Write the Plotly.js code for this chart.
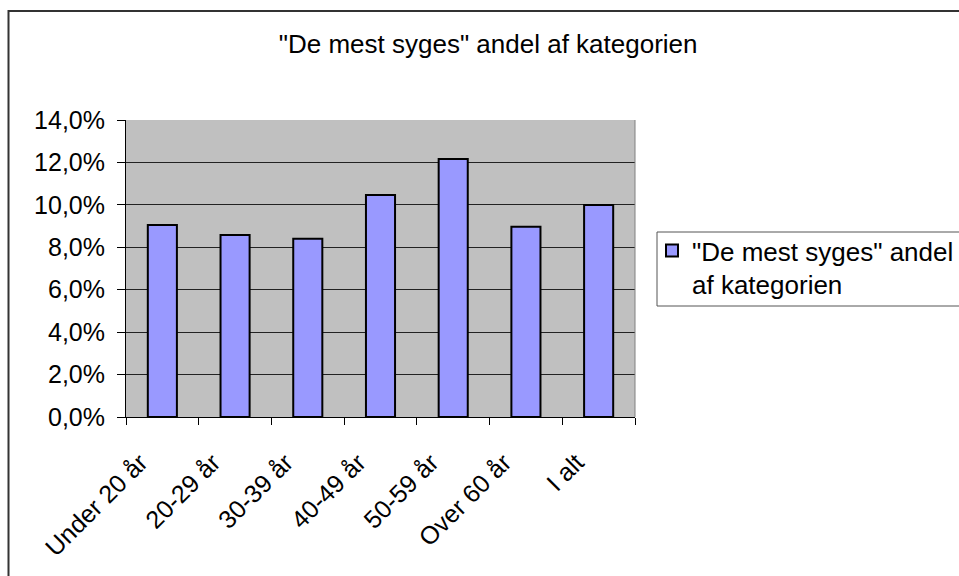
<!DOCTYPE html>
<html>
<head>
<meta charset="utf-8">
<script src="https://cdn.plot.ly/plotly-3.0.1.min.js"></script>
<style>html,body{margin:0;padding:0;background:#fff;}#chart{width:959px;height:576px;}</style>
</head>
<body>
<div id="chart"></div>
<script>
const categories = ["Under 20 år", "20-29 år", "30-39 år", "40-49 år", "50-59 år", "Over 60 år", "I alt"];
const shareValues = [0.0905, 0.0858, 0.0840, 0.1046, 0.1216, 0.0897, 0.0999];
const seriesName = '"De mest syges" andel<br>af kategorien';
const chartTitle = '"De mest syges" andel af kategorien';

const W = 959, H = 576;
const mL = 126, mR = 324, mT = 120, mB = 159;
const pw = W - mL - mR, ph = H - mT - mB;
const px = v => (v - mL) / pw;
const py = v => (H - mB - v) / ph;

const fam = "Liberation Sans, Arial, sans-serif";
const font = {family: fam, size: 25, color: "#000"};
const bigFont = {family: fam, size: 26, color: "#000"};

const trace = {
  type: "bar",
  x: categories,
  y: shareValues,
  name: seriesName,
  marker: {color: "#9999FF", line: {color: "#000", width: 2}},
  showlegend: true,
  hoverinfo: "x+y"
};

const layout = {
  width: W, height: H,
  margin: {l: mL, r: mR, t: mT, b: mB, autoexpand: false},
  paper_bgcolor: "#fff",
  plot_bgcolor: "#C0C0C0",
  font: font,
  separators: ",.",
  bargap: 0.6,
  title: {text: chartTitle, font: bigFont, xref: "container", yref: "container",
          x: 0.509, xanchor: "center", y: 1 - 35 / H, yanchor: "top"},
  xaxis: {
    type: "category",
    tickangle: -45,
    ticks: "outside", ticklen: 7, tickcolor: "#000", tickwidth: 1,
    tickson: "boundaries",
    ticklabelstandoff: 20,
    ticklabelshift: -22,
    showline: true, linecolor: "#000", linewidth: 1,
    showgrid: false, zeroline: false,
    tickfont: font,
    fixedrange: true
  },
  yaxis: {
    range: [0, 0.14], dtick: 0.02, tick0: 0,
    tickformat: ".1%",
    ticks: "outside", ticklen: 8, tickcolor: "#000", tickwidth: 1,
    ticklabelstandoff: 7,
    showline: true, linecolor: "#000", linewidth: 1,
    showgrid: true, gridcolor: "#222", gridwidth: 1,
    zeroline: false,
    tickfont: font,
    fixedrange: true
  },
  legend: {
    x: px(652), y: py(227), xanchor: "left", yanchor: "top",
    bgcolor: "rgba(0,0,0,0)", borderwidth: 0,
    font: bigFont, valign: "top"
  },
  shapes: [
    {type: "line", xref: "paper", yref: "paper", x0: 1, x1: 1, y0: 0, y1: 1,
     line: {color: "#808080", width: 1}, layer: "above"},
    {type: "rect", xref: "paper", yref: "paper",
     x0: px(657), x1: px(1000), y0: py(306), y1: py(232),
     line: {color: "#555", width: 1}, fillcolor: "rgba(0,0,0,0)", layer: "above"},
    {type: "rect", xref: "paper", yref: "paper",
     x0: px(8.5), x1: px(1010), y0: py(620), y1: py(11),
     line: {color: "#333", width: 2}, fillcolor: "rgba(0,0,0,0)", layer: "above"}
  ]
};

Plotly.newPlot("chart", [trace], layout, {displayModeBar: false, staticPlot: true});
</script>
</body>
</html>
